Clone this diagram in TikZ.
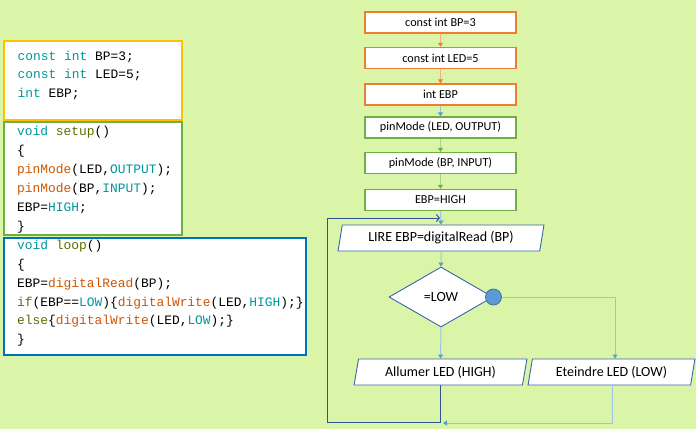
\documentclass[tikz,border=0pt]{standalone}
\usepackage{fontspec}
\setmonofont{Liberation Mono}
\newfontfamily\flowfont{Carlito}
\usetikzlibrary{arrows.meta,shapes.geometric}

% palette
\definecolor{bggreen}{RGB}{219,245,168}
\definecolor{declbox}{RGB}{255,192,0}
\definecolor{setupbox}{RGB}{112,173,71}
\definecolor{loopbox}{RGB}{0,112,192}
\definecolor{kwteal}{RGB}{0,151,156}
\definecolor{stolive}{RGB}{94,109,3}
\definecolor{fnorange}{RGB}{211,84,0}
\definecolor{edgeorange}{RGB}{237,125,49}
\definecolor{lineorange}{RGB}{244,177,131}
\definecolor{edgegreen}{RGB}{112,173,71}
\definecolor{linegreen}{RGB}{169,209,142}
\definecolor{lineblue}{RGB}{157,195,230}
\definecolor{tipblue}{RGB}{91,155,213}
\definecolor{shapeblue}{RGB}{59,100,173}
\definecolor{loopblue}{RGB}{47,85,151}
\definecolor{dotedge}{RGB}{65,113,156}

% syntax colouring for the sketch source
\newcommand\ckw[1]{\textcolor{kwteal}{#1}}
\newcommand\cst[1]{\textcolor{stolive}{#1}}
\newcommand\cfn[1]{\textcolor{fnorange}{#1}}

\begin{document}
\begin{tikzpicture}[x=1pt,y=-1pt,
  codebox/.style={draw=#1, line width=2pt, fill=white, inner sep=0pt, outer sep=0pt, anchor=north west},
  codeline/.style={anchor=base west, inner sep=0pt, font=\fontsize{12.9}{18.9}\selectfont\ttfamily},
  flowbox/.style={draw=#1, line width=1.3pt, fill=white, minimum width=151pt, minimum height=21pt,
    inner sep=0pt, font=\flowfont\fontsize{12.2}{14}\selectfont},
  para/.style={trapezium, trapezium left angle=76, trapezium right angle=104, trapezium stretches=true,
    draw=shapeblue, line width=0.9pt, fill=white, inner sep=0pt, minimum height=26pt,
    font=\flowfont\fontsize{14}{16}\selectfont},
  decision/.style={diamond, draw=shapeblue, line width=0.9pt, fill=white, inner sep=0pt,
    minimum width=104pt, minimum height=60pt, font=\flowfont\fontsize{14}{16}\selectfont},
  oarr/.style={draw=lineorange, line width=1pt, -{Triangle[length=4pt,width=5pt,color=edgeorange]}},
  garr/.style={draw=linegreen, line width=1pt, -{Triangle[length=4pt,width=5pt,color=edgegreen]}},
  barr/.style={draw=lineblue, line width=1pt, -{Triangle[length=4pt,width=5pt,color=tipblue]}},
  loopline/.style={draw=loopblue, line width=1pt, -{Straight Barb[length=3pt,width=7pt]}}]

% page
\fill[bggreen] (0,0) rectangle (696,429);
\useasboundingbox (0,0) rectangle (696,429);

% ---- source listing ----
\node[codebox=declbox, minimum width=178pt, minimum height=79pt] (decl) at (4,41) {};
\node[codebox=setupbox, minimum width=178pt, minimum height=113pt] (setup) at (4,122) {};
\node[codebox=loopbox, minimum width=302pt, minimum height=117pt] (loop) at (4,238) {};

\node[codeline] (d1) at (17.5,60)   {\ckw{const} \ckw{int} BP=3;};
\node[codeline] (d2) at (17.5,78.9) {\ckw{const} \ckw{int} LED=5;};
\node[codeline] (d3) at (17.5,97.8) {\ckw{int} EBP;};

\node[codeline] (s1) at (17,135.5) {\ckw{void} \cst{setup}()};
\node[codeline] (s2) at (17,154.4) {\{};
\node[codeline] (s3) at (17,173.3) {\cfn{pinMode}(LED,\ckw{OUTPUT});};
\node[codeline] (s4) at (17,192.2) {\cfn{pinMode}(BP,\ckw{INPUT});};
\node[codeline] (s5) at (17,211.1) {EBP=\ckw{HIGH};};
\node[codeline] (s6) at (17,230)   {\}};

\node[codeline] (l1) at (17,249.3) {\ckw{void} \cst{loop}()};
\node[codeline] (l2) at (17,268.2) {\{};
\node[codeline] (l3) at (17,287.1) {EBP=\cfn{digitalRead}(BP);};
\node[codeline] (l4) at (17,306)   {\cst{if}(EBP==\ckw{LOW})\{\cfn{digitalWrite}(LED,\ckw{HIGH});\}};
\node[codeline] (l5) at (17,324.9) {\cst{else}\{\cfn{digitalWrite}(LED,\ckw{LOW});\}};
\node[codeline] (l6) at (17,343.8) {\}};

% ---- flowchart ----
\node[flowbox=edgeorange] (b1) at (440.5,22.5)  {const int BP=3};
\node[flowbox=edgeorange] (b2) at (440.5,58)    {const int LED=5};
\node[flowbox=edgeorange] (b3) at (440.5,94.5)  {int EBP};
\node[flowbox=edgegreen]  (b4) at (440.5,127.5) {pinMode (LED, OUTPUT)};
\node[flowbox=edgegreen]  (b5) at (440.5,163)   {pinMode (BP, INPUT)};
\node[flowbox=edgegreen]  (b6) at (440.5,200)   {EBP=HIGH};

\node[para, minimum width=206pt] (lire) at (441,238) {LIRE EBP=digitalRead (BP)};
\node[decision] (test) at (441,297) {=LOW};
\node[circle, draw=dotedge, line width=0.8pt, fill=tipblue, minimum size=16pt, inner sep=0pt] (dot) at (test.east) {};
\node[para, minimum width=173pt] (on)  at (440.5,372) {Allumer LED (HIGH)};
\node[para, minimum width=167pt] (off) at (611.5,372) {Eteindre LED (LOW)};

\draw[oarr] (b1.south) -- (b2.north);
\draw[oarr] (b2.south) -- (b3.north);
\draw[barr] (b3.south) -- (b4.north);
\draw[garr] (b4.south) -- (b5.north);
\draw[garr] (b5.south) -- (b6.north);
\draw[barr] (b6.south) -- (lire.north);
\draw[barr] (lire.south) -- (test.north);
\draw[barr] (test.south) -- (on.north);
\draw[barr] (dot.east) -| ([xshift=3.5pt]off.north);

% return paths to the read step
\coordinate (loopbl) at (327.5,422.5);
\coordinate (loopin) at (440,218);
\coordinate (joinin) at (443,423);
\draw[loopline] (on.south) |- (loopbl) |- (loopin);
\draw[barr, -{Triangle[length=4pt,width=5pt,color=tipblue]}] ([xshift=0.5pt]off.south) |- (joinin);

\end{tikzpicture}
\end{document}
